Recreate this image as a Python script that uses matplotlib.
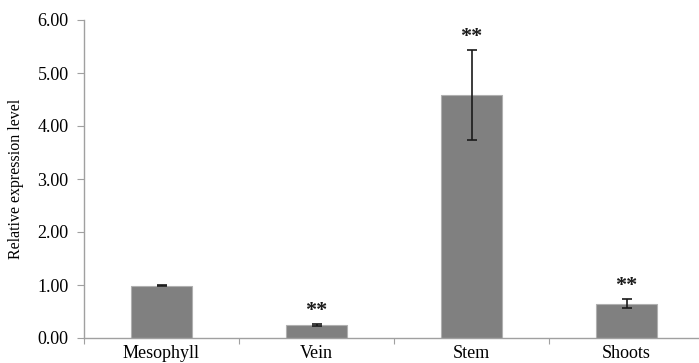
import matplotlib.pyplot as plt
import numpy as np

tissues = ['Mesophyll', 'Vein', 'Stem', 'Shoots']
expression = [0.99, 0.25, 4.58, 0.65]
errors = [0.01, 0.02, 0.85, 0.09]
marks = ['', '**', '**', '**']

plt.rcParams['font.family'] = ['Liberation Serif', 'DejaVu Serif']

fig = plt.figure(figsize=(6.99, 3.63), dpi=100)
ax = fig.add_axes([84/699, 25/363, 620/699, 318/363])

x = np.arange(len(tissues))
ax.bar(x, expression, width=0.39, color='#808080', edgecolor='#b0b0b0', linewidth=0.8, zorder=2)
ax.errorbar(x, expression, yerr=errors, fmt='none', ecolor='#1a1a1a',
            elinewidth=1.2, capsize=3.5, capthick=1.2, zorder=3)

# significance stars
for xi, v, e, m in zip(x, expression, errors, marks):
    if m:
        ax.annotate(m, (xi, v + e), xytext=(0, 2), textcoords='offset points',
                    ha='center', va='bottom', fontsize=16, fontweight='bold', color='#1a1a1a')

ax.set_xlim(-0.5, 3.5)
ax.set_ylim(0, 6)
ax.set_yticks(np.arange(0, 7, 1))
ax.set_yticklabels(['%.2f' % v for v in np.arange(0, 7, 1)], fontsize=13)
ax.set_xticks(np.arange(-0.5, 4, 1))
ax.set_xticklabels([])
ax.set_xticks(x, minor=True)
ax.set_xticklabels(tissues, minor=True, fontsize=13)
ax.tick_params(axis='x', which='minor', length=0, pad=5)
ax.tick_params(axis='x', which='major', length=4, color='#a0a0a0', direction='out')
ax.tick_params(axis='y', length=5, color='#a0a0a0', pad=6)
ax.set_ylabel('Relative expression level', fontsize=11.5, labelpad=10)

for s in ['top', 'right']:
    ax.spines[s].set_visible(False)
for s in ['left', 'bottom']:
    ax.spines[s].set_color('#a0a0a0')
    ax.spines[s].set_linewidth(1.0)

fig.savefig('out.png', dpi=100)
